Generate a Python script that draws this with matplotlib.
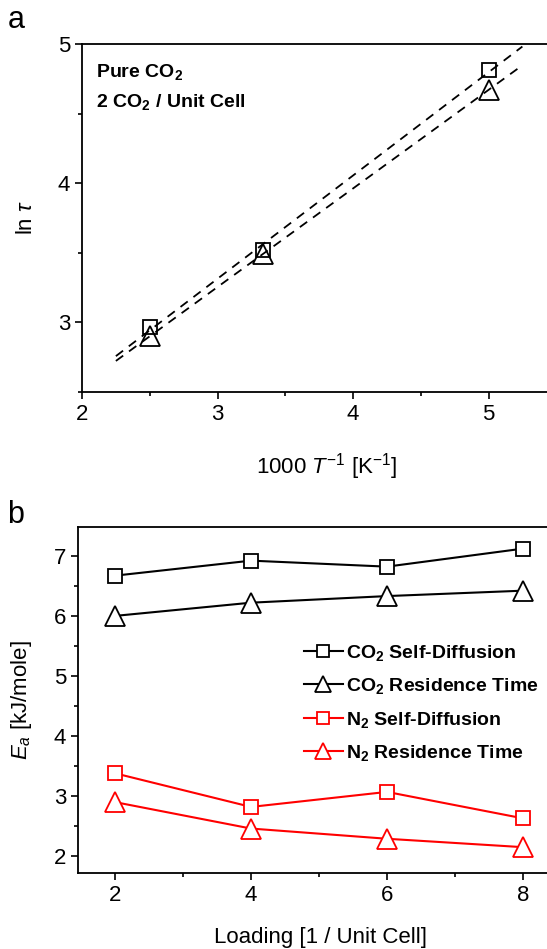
import numpy as np
import matplotlib
matplotlib.use('Agg')
import matplotlib.pyplot as plt
from matplotlib.ticker import MultipleLocator

plt.rcParams['font.family'] = ['Liberation Sans', 'DejaVu Sans']
plt.rcParams['mathtext.fontset'] = 'custom'
plt.rcParams['mathtext.rm'] = 'Liberation Sans'
plt.rcParams['mathtext.it'] = 'Liberation Sans:italic'
plt.rcParams['mathtext.bf'] = 'Liberation Sans:bold'

# Panel a: ln(tau) vs 1000/T, pure CO2, 2 CO2 / unit cell
inv_T = [2.5, 3.333, 5.0]
ln_tau_sd = [2.97, 3.52, 4.81]   # squares
ln_tau_rt = [2.90, 3.49, 4.67]   # triangles

# Panel b: activation energies vs loading
loading = [2, 4, 6, 8]
ea_co2_sd = [6.67, 6.92, 6.82, 7.12]
ea_co2_rt = [6.00, 6.22, 6.33, 6.42]
ea_n2_sd = [3.38, 2.82, 3.07, 2.63]
ea_n2_rt = [2.90, 2.46, 2.29, 2.15]

labels_b = [r'CO$_\mathbf{2}$ Self-Diffusion', r'CO$_\mathbf{2}$ Residence Time',
            r'N$_\mathbf{2}$ Self-Diffusion', r'N$_\mathbf{2}$ Residence Time']

W, H = 547, 949
fig = plt.figure(figsize=(W / 100, H / 100), dpi=100)

def style_axes(ax):
    ax.spines['right'].set_visible(False)
    for s in ['left', 'bottom', 'top']:
        ax.spines[s].set_linewidth(1.3)
    ax.tick_params(which='both', direction='out', top=False, right=False,
                   labelsize=16, width=1.2)
    ax.tick_params(which='major', length=5)
    ax.tick_params(which='minor', length=3)

# ---- panel a
ax1 = fig.add_axes([82 / W, 1 - 392 / H, (W - 82) / W, (392 - 44) / H])
ax1.set_xlim(2, 2 + (W - 82) / 135.5)
ax1.set_ylim(2.5, 5)
ax1.xaxis.set_major_locator(MultipleLocator(1))
ax1.xaxis.set_minor_locator(MultipleLocator(0.5))
ax1.yaxis.set_major_locator(MultipleLocator(1))
ax1.yaxis.set_minor_locator(MultipleLocator(0.5))
style_axes(ax1)

xfit = np.array([2.25, 5.25])
for ys in [ln_tau_sd, ln_tau_rt]:
    p = np.polyfit(inv_T, ys, 1)
    ax1.plot(xfit, np.polyval(p, xfit), ls=(0, (5, 4)), color='black', lw=1.3)
ax1.plot(inv_T, ln_tau_sd, 's', ms=10.5, mfc='none', mec='black', mew=1.3)
ax1.plot(inv_T, ln_tau_rt, '^', ms=14, mfc='none', mec='black', mew=1.3)

ax1.text(96 / W, 1 - 72 / H, r'Pure CO$_\mathbf{2}$', transform=fig.transFigure,
         fontsize=14, fontweight='bold', va='center', ha='left')
ax1.text(96 / W, 1 - 102 / H, r'2 CO$_\mathbf{2}$ / Unit Cell', transform=fig.transFigure,
         fontsize=14, fontweight='bold', va='center', ha='left')

ax1.set_ylabel(r'ln $\tau$', fontsize=16)
ax1.yaxis.set_label_coords(-(82 - 37) / (W - 82), 0.5)
ax1.set_xlabel(r'1000 $T^{-1}$ [K$^{-1}$]', fontsize=16)
ax1.xaxis.set_label_coords((327 - 82) / (W - 82), -(451 - 392) / (392 - 44))

fig.text(16 / W, 1 - 20 / H, 'a', fontsize=22, va='center', ha='center')

# ---- panel b
ax2 = fig.add_axes([78 / W, 1 - 873 / H, (W - 78) / W, (873 - 527) / H])
ax2.set_xlim(2 - 37 / 68, 2 + (W - 115) / 68)
ax2.set_ylim(1.72, 7.48)
ax2.xaxis.set_major_locator(MultipleLocator(2))
ax2.xaxis.set_minor_locator(MultipleLocator(1))
ax2.yaxis.set_major_locator(MultipleLocator(1))
ax2.yaxis.set_minor_locator(MultipleLocator(0.5))
style_axes(ax2)

series = [(ea_co2_sd, 's', 'black'), (ea_co2_rt, '^', 'black'),
          (ea_n2_sd, 's', '#ff0000'), (ea_n2_rt, '^', '#ff0000')]
for (ys, mk, col), lab in zip(series, labels_b):
    ax2.plot(loading, ys, marker=mk, ms=10.5 if mk == 's' else 14, color=col,
             mfc='white', mec=col, mew=1.3, lw=1.5, label=lab)

leg = ax2.legend(loc='upper left', bbox_to_anchor=(0.465, 0.687), frameon=False,
                 borderaxespad=0, handlelength=2.0, handletextpad=0.15,
                 labelspacing=0.68, markerscale=0.85,
                 prop={'size': 14, 'weight': 'bold'})

ax2.set_ylabel(r'$E_a$ [kJ/mole]', fontsize=16)
ax2.yaxis.set_label_coords(-(78 - 34) / (W - 78), 0.5)
ax2.set_xlabel('Loading [1 / Unit Cell]', fontsize=16)
ax2.xaxis.set_label_coords((320 - 78) / (W - 78), -(927 - 873) / (873 - 527))

fig.text(16 / W, 1 - 515 / H, 'b', fontsize=22, va='center', ha='center')

fig.savefig('out.png', dpi=100)
